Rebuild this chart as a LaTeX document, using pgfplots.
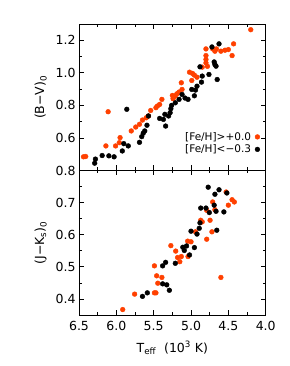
\documentclass[border=0pt]{standalone}
\usepackage{pgfplots}
\pgfplotsset{compat=1.18}
\usepackage{fontspec}
\setmainfont{DejaVu Sans}
\definecolor{feorange}{RGB}{255,64,0}
\begin{document}
\begin{tikzpicture}
\useasboundingbox (0,0) rectangle (289pt,366pt);
\pgfplotsset{
  every axis/.append style={
    scale only axis, width=186.7pt,
    x dir=reverse, xmin=4.0, xmax=6.5,
    xtick={4.0,4.5,5.0,5.5,6.0,6.5}, minor x tick num=1,
    minor y tick num=1,
    tick align=inside,
    major tick length=5pt, minor tick length=3pt,
    axis line style={line width=0.9pt},
    every tick/.style={line width=0.7pt,black},
    /pgf/number format/assume math mode=true,
    /pgf/number format/.cd, fixed, fixed zerofill, precision=1, /pgfplots/.cd,
    tick label style={font=\fontsize{12.5}{14}\selectfont},
    xticklabel style={yshift=-3pt},
    label style={font=\fontsize{12.5}{14}\selectfont},
  },
}
% ---------------- top panel ----------------
\begin{axis}[
  at={(79pt,195.5pt)}, anchor=south west, height=146.5pt,
  ymin=0.4, ymax=1.3, ytick={0.6,0.8,1.0,1.2},
  xticklabels={},
  ylabel={(B−V)\textsubscript{0}},
  ylabel style={at={(axis description cs:-0.205,0.5)}, anchor=center},
  legend plot pos=right,
  legend cell align=right,
  legend style={draw=none, fill=none, at={(0.975,0.09)}, anchor=south east,
    font=\fontsize{10.5}{12}\selectfont, row sep=-1pt, inner sep=1pt,
    nodes={inner xsep=4pt}},
]
\addplot[only marks, mark=*, mark size=2.4pt, color=feorange] coordinates {
(4.20,1.265) (4.43,1.178) (4.45,1.106) (4.50,1.143) (4.545,1.139) (4.60,1.133)
(4.66,1.147) (4.68,1.133) (4.71,1.147) (4.80,1.147) (4.80,1.106) (4.80,1.082)
(4.80,1.061) (4.78,1.040) (4.85,1.035) (5.02,1.004) (4.98,0.996) (4.955,0.986)
(4.99,0.953) (4.92,0.973) (5.13,0.939) (5.12,0.898) (5.16,0.882) (5.19,0.871)
(5.21,0.857) (5.24,0.841) (5.25,0.861) (5.39,0.837) (5.42,0.806) (5.45,0.796)
(5.47,0.786) (5.54,0.769) (5.57,0.735) (5.60,0.724) (5.65,0.710) (5.69,0.684)
(5.74,0.667) (5.80,0.643) (5.95,0.602) (5.96,0.571) (6.01,0.551) (6.14,0.551)
(6.11,0.761) (6.41,0.486) (6.44,0.484)
};
\addlegendentry{[Fe/H]>+0.0}
\addplot[only marks, mark=*, mark size=2.4pt, color=black] coordinates {
(4.625,1.178) (4.72,1.159) (4.69,1.067) (4.68,1.051) (4.665,1.041) (4.65,0.959)
(4.76,0.990) (4.85,0.980) (4.86,0.943) (4.88,1.037) (4.92,0.918) (4.94,0.894)
(4.955,0.859) (4.99,0.898) (5.04,0.837) (5.08,0.845) (5.12,0.867) (5.16,0.837)
(5.21,0.816) (5.26,0.800) (5.27,0.780) (5.28,0.755) (5.30,0.735) (5.35,0.745)
(5.34,0.673) (5.37,0.714) (5.42,0.720) (5.57,0.735) (5.59,0.678) (5.62,0.643)
(5.64,0.629) (5.66,0.608) (5.69,0.573) (5.86,0.776) (5.84,0.551) (5.90,0.565)
(5.92,0.520) (6.03,0.484) (6.10,0.490) (6.19,0.492) (6.28,0.470) (6.29,0.445)
};
\addlegendentry{[Fe/H]<−0.3}
\end{axis}
% ---------------- bottom panel ----------------
\begin{axis}[
  at={(79pt,51pt)}, anchor=south west, height=144.5pt,
  ymin=0.35, ymax=0.8, ytick={0.4,0.5,0.6,0.7,0.8},
  ylabel={(J−K\textsubscript{s})\textsubscript{0}},
  ylabel style={at={(axis description cs:-0.205,0.5)}, anchor=center},
  xlabel={T\textsubscript{eff}\ \ (10\textsuperscript{3} K)},
  xlabel style={at={(axis description cs:0.5,-0.228)}, anchor=center},
]
\addplot[only marks, mark=*, mark size=2.4pt, color=feorange] coordinates {
(5.915,0.367) (5.755,0.415) (5.49,0.419) (5.47,0.419) (5.49,0.503) (5.46,0.472)
(5.39,0.467) (5.445,0.449) (5.27,0.566) (5.205,0.549) (5.18,0.529) (5.13,0.532)
(5.15,0.516) (5.045,0.580) (5.00,0.578) (5.04,0.532) (4.94,0.609) (4.87,0.645)
(4.85,0.640) (4.79,0.586) (4.745,0.645) (4.72,0.609) (4.71,0.702) (4.79,0.676)
(4.68,0.678) (4.60,0.467) (4.50,0.692) (4.53,0.733) (4.45,0.709) (4.42,0.702)
};
\addplot[only marks, mark=*, mark size=2.4pt, color=black] coordinates {
(5.65,0.408) (5.585,0.419) (5.38,0.503) (5.34,0.514) (5.38,0.447) (5.325,0.444)
(5.29,0.427) (5.21,0.511) (5.11,0.561) (5.09,0.551) (5.06,0.565) (5.02,0.537)
(4.955,0.560) (5.00,0.611) (4.92,0.602) (4.89,0.620) (4.88,0.637) (4.87,0.683)
(4.80,0.683) (4.755,0.669) (4.77,0.748) (4.68,0.726) (4.69,0.692) (4.665,0.673)
(4.625,0.740) (4.655,0.614) (4.56,0.671) (4.52,0.730)
};
\end{axis}
\end{tikzpicture}
\end{document}
